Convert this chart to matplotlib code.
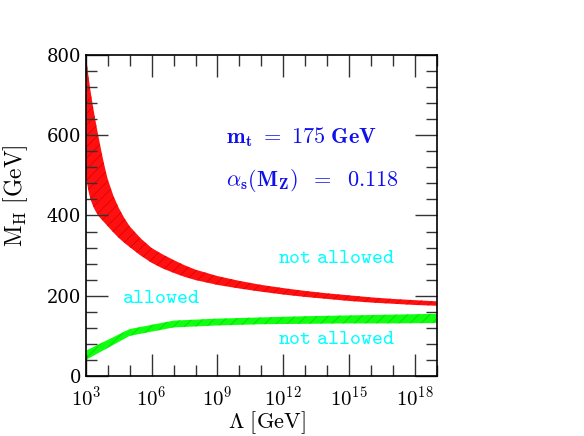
import matplotlib
matplotlib.use("Agg")
import matplotlib.pyplot as plt
from matplotlib.ticker import FixedLocator, NullFormatter

plt.rcParams['mathtext.fontset'] = 'cm'
plt.rcParams['font.family'] = 'DejaVu Serif'
plt.rcParams['hatch.linewidth'] = 0.6

# log10(Lambda / GeV) and band edges in GeV
red_logL = [3.0, 3.1, 3.2, 3.3, 3.4, 3.5, 3.6, 3.7, 3.8, 3.9, 4.0, 4.25, 4.5, 4.75,
            5.0, 5.5, 6.0, 6.5, 7.0, 7.5, 8.0, 9.0, 10.0, 11.0, 12.0, 13.0, 14.0,
            15.0, 16.0, 17.0, 18.0, 19.0]
red_low = [500, 466, 442, 427, 415, 405, 397, 391, 385, 379, 373, 358, 344, 332,
           321, 300, 282, 268, 257, 247, 239, 227, 218, 210, 203, 197, 192,
           187, 183, 180, 177, 175]
red_high = [800, 755, 715, 680, 648, 618, 590, 562, 536, 512, 490, 450, 419, 394,
            373, 343, 319, 303, 289, 276, 265, 249, 237, 227, 219, 212, 206,
            201, 196, 192, 189, 186]

green_logL = [3, 5, 7, 9, 11, 13, 15, 17, 19]
green_low = [40, 100, 121, 126, 129, 130, 131, 131, 132]
green_high = [63, 117, 138, 143, 146, 149, 151, 153, 155]

major_exp = [3, 6, 9, 12, 15, 18]

fig = plt.figure(figsize=(5.84, 4.36), dpi=100)
ax = fig.add_axes([0.147, 0.1376, 0.601, 0.7364])

rx = [10.0 ** v for v in red_logL]
gx = [10.0 ** v for v in green_logL]
ax.fill_between(rx, red_low, red_high, facecolor='#ff1010', edgecolor='#e00000',
                hatch='///', linewidth=0)
ax.fill_between(gx, green_low, green_high, facecolor='#10ff10', edgecolor='#00dd00',
                hatch='///', linewidth=0)

ax.set_xscale('log')
ax.set_xlim(1e3, 1e19)
ax.set_ylim(0, 800)

ax.xaxis.set_major_locator(FixedLocator([10.0 ** e for e in major_exp]))
ax.xaxis.set_minor_locator(FixedLocator([10.0 ** e for e in range(3, 20)]))
ax.xaxis.set_minor_formatter(NullFormatter())
ax.set_xticklabels([r'$\mathrm{10^{%d}}$' % e for e in major_exp])
ax.set_yticks([0, 200, 400, 600, 800])
ax.yaxis.set_minor_locator(FixedLocator(range(0, 801, 40)))

ax.tick_params(which='both', direction='in', top=True, right=True, width=1.0,
               labelsize=15, color='#333333')
ax.tick_params(which='major', length=16)
ax.tick_params(which='minor', length=8)
ax.tick_params(axis='x', pad=7)
for lab in ax.get_yticklabels():
    lab.set_fontfamily('DejaVu Serif')
    lab.set_fontsize(13)
for s in ax.spines.values():
    s.set_linewidth(1.2)

ax.set_xlabel(r'$\Lambda\ \mathrm{[GeV]}$', fontsize=16, va='top')
ax.xaxis.set_label_coords(0.516, -0.104)
ax.set_ylabel(r'$\mathrm{M_H\ [GeV]}$', fontsize=17)
ax.yaxis.set_label_coords(-0.16, 0.56)

ax.text(0.40, 0.745, r'$\mathbf{m_t\ =\ 175\ GeV}$', transform=ax.transAxes,
        color='#1010ee', fontsize=16, va='center')
ax.text(0.40, 0.61, r'$\alpha_\mathbf{s}\mathbf{(M_Z)\ \;=\ \;0.118}$', transform=ax.transAxes,
        color='#1010ee', fontsize=16, va='center')
ax.text(0.715, 0.368, r'$\mathtt{not\ allowed}$', transform=ax.transAxes, color='cyan',
        fontsize=15, ha='center', va='center')
ax.text(0.715, 0.118, r'$\mathtt{not\ allowed}$', transform=ax.transAxes, color='cyan',
        fontsize=15, ha='center', va='center')
ax.text(0.214, 0.246, r'$\mathtt{allowed}$', transform=ax.transAxes, color='cyan',
        fontsize=15, ha='center', va='center')

fig.savefig("out.png", dpi=100)
